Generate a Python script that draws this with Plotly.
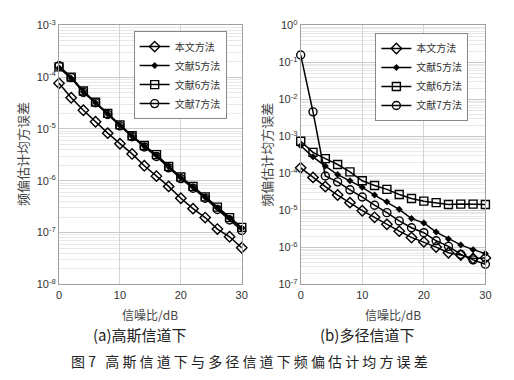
import plotly.graph_objects as go

# ---------------- data ----------------
snr = [0, 2, 4, 6, 8, 10, 12, 14, 16, 18, 20, 22, 24, 26, 28, 30]
tick_x = [0, 10, 20, 30]

# (a) Gaussian channel
ours_a = [7.6e-5, 4.0e-5, 2.3e-5, 1.38e-5, 8.3e-6, 5.2e-6, 3.3e-6, 1.95e-6,
          1.23e-6, 7.8e-7, 4.6e-7, 2.9e-7, 1.95e-7, 1.17e-7, 8.3e-8, 5.1e-8]
ref5_a = [1.51e-4, 9.5e-5, 5.2e-5, 3.2e-5, 1.95e-5, 1.17e-5, 7.2e-6, 4.7e-6,
          3.1e-6, 1.86e-6, 1.15e-6, 7.6e-7, 4.8e-7, 3.0e-7, 1.9e-7, 1.2e-7]
ref6_a = [1.58e-4, 1.0e-4, 5.4e-5, 3.3e-5, 2.0e-5, 1.2e-5, 7.4e-6, 4.8e-6,
          3.2e-6, 1.9e-6, 1.18e-6, 7.8e-7, 4.9e-7, 3.1e-7, 1.95e-7, 1.26e-7]
ref7_a = [1.66e-4, 9.8e-5, 5.1e-5, 3.2e-5, 1.9e-5, 1.15e-5, 7.1e-6, 4.5e-6,
          2.95e-6, 1.78e-6, 1.1e-6, 7.2e-7, 4.6e-7, 2.8e-7, 1.75e-7, 1.1e-7]

# (b) multipath channel
ours_b = [1.41e-4, 7.8e-5, 4.4e-5, 2.6e-5, 1.62e-5, 9.8e-6, 6.5e-6, 4.2e-6,
          2.75e-6, 1.86e-6, 1.41e-6, 1.02e-6, 7.2e-7, 6.2e-7, 5.0e-7, 5.2e-7]
ref5_b = [5.6e-4, 2.8e-4, 1.58e-4, 9.3e-5, 6.3e-5, 4.2e-5, 2.6e-5, 1.7e-5,
          1.07e-5, 6.0e-6, 4.6e-6, 2.6e-6, 1.7e-6, 1.17e-6, 8.7e-7, 6.8e-7]
ref6_b = [7.4e-4, 3.7e-4, 2.5e-4, 1.74e-4, 1.1e-4, 6.3e-5, 4.7e-5, 3.7e-5,
          2.7e-5, 2.1e-5, 1.78e-5, 1.62e-5, 1.45e-5, 1.48e-5, 1.48e-5, 1.45e-5]
ref7_b = [1.58e-1, 4.6e-3, 8.5e-5, 5.9e-5, 3.6e-5, 2.3e-5, 1.38e-5, 8.7e-6,
          5.2e-6, 3.4e-6, 2.5e-6, 1.51e-6, 1.07e-6, 6.5e-7, 4.6e-7, 3.5e-7]

names = ["本文方法", "文献5方法", "文献6方法", "文献7方法"]
ytick_a = [-8, -7, -6, -5, -4, -3]
ytick_b = [-7, -6, -5, -4, -3, -2, -1, 0]

# ---------------- styles ----------------
CJK = "Noto Sans CJK SC"
SANS = "Liberation Sans, Arial"
markers = [
    dict(symbol="diamond-open", size=8, color="black", line=dict(width=1.4)),
    dict(symbol="diamond", size=5, color="black", line=dict(width=0.5, color="black")),
    dict(symbol="square-open", size=8, color="black", line=dict(width=1.4)),
    dict(symbol="circle-open", size=8, color="black", line=dict(width=1.4)),
]

fig = go.Figure()
series_a = [ours_a, ref5_a, ref6_a, ref7_a]
series_b = [ours_b, ref5_b, ref6_b, ref7_b]
for i, ys in enumerate(series_a):
    fig.add_trace(go.Scatter(x=snr, y=ys, name=names[i], mode="lines+markers",
                             line=dict(color="black", width=1.5), marker=markers[i],
                             xaxis="x", yaxis="y", legend="legend", cliponaxis=False))
for i, ys in enumerate(series_b):
    fig.add_trace(go.Scatter(x=snr, y=ys, name=names[i], mode="lines+markers",
                             line=dict(color="black", width=1.5), marker=markers[i],
                             xaxis="x2", yaxis="y2", legend="legend2", cliponaxis=False))

W, H = 514, 380
def px(x):
    return x / W
def py(y):
    return 1 - y / H

common_x = dict(range=[0, 30], tickvals=tick_x, showgrid=True, gridcolor="#d4d4d4",
                showline=True, linecolor="#a0a0a0", mirror=True, zeroline=False,
                ticks="", tickfont=dict(family=SANS, size=11, color="#333"))
def yaxis(rng, tv, dom_anchor):
    return dict(type="log", range=rng, tickvals=[10 ** t for t in tv],
                ticktext=["10<sup>%d</sup>" % t for t in tv],
                showgrid=True, gridcolor="#c8c8c8",
                minor=dict(showgrid=True, gridcolor="#e8e8e8", dtick="D1"),
                showline=True, linecolor="#a0a0a0", mirror=True, zeroline=False,
                ticks="", tickfont=dict(family=SANS, size=11, color="#333"),
                domain=[py(287), py(18)], anchor=dom_anchor)

fig.update_layout(
    width=W, height=H, margin=dict(l=0, r=0, t=0, b=0),
    paper_bgcolor="white", plot_bgcolor="white",
    xaxis=dict(domain=[px(57), px(243)], anchor="y", **common_x),
    xaxis2=dict(domain=[px(303), px(491)], anchor="y2", **common_x),
    yaxis=yaxis([-8, -3], ytick_a, "x"),
    yaxis2=yaxis([-7, 0], ytick_b, "x2"),
    legend=dict(x=px(133), y=py(24), xanchor="left", yanchor="top",
                bgcolor="white", bordercolor="#888", borderwidth=1,
                font=dict(family=CJK, size=10, color="#333"), tracegroupgap=0),
    legend2=dict(x=px(379), y=py(26), xanchor="left", yanchor="top",
                 bgcolor="white", bordercolor="#888", borderwidth=1,
                 font=dict(family=CJK, size=10, color="#333"), tracegroupgap=0),
    showlegend=True,
)

def A(text, x, y, size, color, angle=0):
    return dict(text=text, x=px(x), y=py(y), xref="paper", yref="paper",
                xanchor="center", yanchor="middle", textangle=angle,
                showarrow=False, font=dict(family=CJK, size=size, color=color))

NB = "\u00a0"
caption = "图" + NB + "7" + NB * 3 + NB.join("高斯信道下与多径信道下频偏估计均方误差")

ann = []
for cx in (20, 268):
    ann.append(A("频偏估计均方误差", cx, 152, 13, "#444", -90))
for cx in (150, 397):
    ann.append(A("信噪比/dB", cx, 318, 12, "#444"))
ann.append(A("(a)高斯信道下", 139, 339, 15, "#222"))
ann.append(A("(b)多径信道下", 370, 339, 15, "#222"))
ann.append(A(caption, 251, 366, 14, "#222"))
fig.update_layout(annotations=ann)

fig.write_html("out.html")
